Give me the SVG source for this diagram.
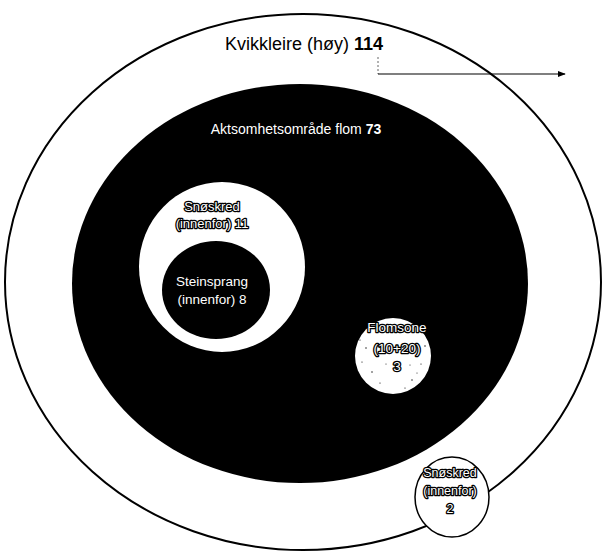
<svg xmlns="http://www.w3.org/2000/svg" width="603" height="552" viewBox="0 0 603 552">
<defs>
<style>
text{font-family:"Liberation Sans",Arial,sans-serif;text-anchor:middle}
.w{fill:#fff}
.o{fill:#fff;stroke:#000;stroke-width:2.6;paint-order:stroke;stroke-linejoin:round}
.b{font-weight:bold}
.dot{fill:#000}
</style>
<marker id="ah" viewBox="0 0 10 10" refX="9" refY="5" markerWidth="8" markerHeight="8" orient="auto" markerUnits="userSpaceOnUse">
<path d="M0,1 L10,5 L0,9 z" fill="#000"/>
</marker>
</defs>
<rect width="603" height="552" fill="#fff"/>
<g id="kvikkleire">
<ellipse cx="303" cy="282" rx="298" ry="268" fill="#fff" stroke="#000" stroke-width="2"/>
<text x="304" y="50" font-size="18">Kvikkleire (høy) <tspan class="b">114</tspan></text>
</g>
<g id="aktsomhet">
<ellipse cx="300" cy="283.5" rx="228" ry="199.5" fill="#000"/>
<text class="w" x="296" y="134" font-size="14">Aktsomhetsområde flom <tspan class="b">73</tspan></text>
</g>
<g id="snoskred-innenfor">
<ellipse cx="222" cy="267" rx="83" ry="85" fill="#fff"/>
<text class="o" x="212" y="211" font-size="13">Snøskred</text>
<text class="o" x="212" y="228" font-size="13">(innenfor) 11</text>
</g>
<g id="steinsprang">
<ellipse cx="216" cy="290" rx="54" ry="49" fill="#000"/>
<text class="w" x="212" y="286" font-size="13.5">Steinsprang</text>
<text class="w" x="212" y="304" font-size="13.5">(innenfor) 8</text>
</g>
<g id="flomsone">
<circle cx="393" cy="356" r="38" fill="#fff"/>
<g class="dot">
<circle cx="366" cy="348" r="0.7"/><circle cx="372" cy="372" r="0.7"/><circle cx="380" cy="383" r="0.6"/>
<circle cx="412" cy="380" r="0.7"/><circle cx="421" cy="364" r="0.6"/><circle cx="425" cy="346" r="0.7"/>
<circle cx="362" cy="362" r="0.6"/><circle cx="405" cy="388" r="0.6"/><circle cx="417" cy="373" r="0.5"/>
<circle cx="386" cy="364" r="0.5"/><circle cx="410" cy="365" r="0.5"/><circle cx="360" cy="340" r="0.6"/>
</g>
<text class="o" x="397" y="332" font-size="13.5">Flomsone</text>
<text class="o" x="397" y="353" font-size="13.5">(10+20)</text>
<text class="o" x="397" y="371" font-size="13.5">3</text>
</g>
<g id="snoskred-utenfor">
<ellipse cx="452" cy="497" rx="37" ry="40" fill="#fff" stroke="#000" stroke-width="1.5"/>
<text class="o" x="450" y="477" font-size="12.5">Snøskred</text>
<text class="o" x="450" y="495" font-size="12.5">(innenfor)</text>
<text class="o" x="450" y="513" font-size="12.5">2</text>
</g>
<g id="connectors">
<path d="M378,57 L378,74" fill="none" stroke="#666" stroke-width="1" stroke-dasharray="2,2"/>
<path d="M378,74 L565,74" fill="none" stroke="#000" stroke-width="1.2" marker-end="url(#ah)"/>
</g>
</svg>
